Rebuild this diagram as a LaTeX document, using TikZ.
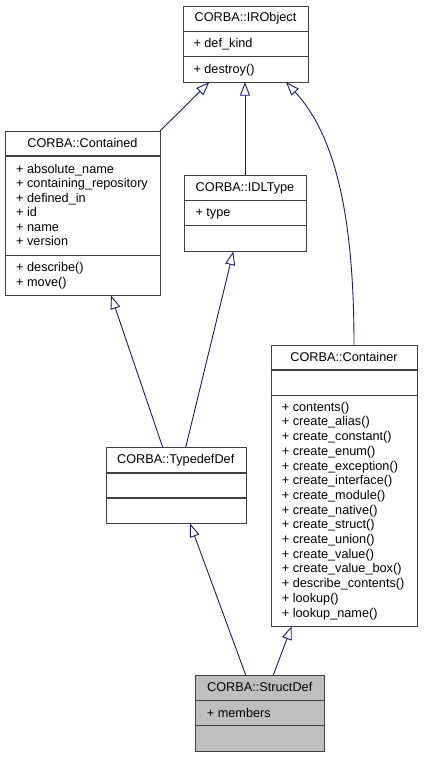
\documentclass[tikz,border=0pt]{standalone}
\usepackage{fontspec}
\setmainfont{Liberation Sans}
\usetikzlibrary{arrows.meta}
\definecolor{edgeblue}{RGB}{25,25,112}
\definecolor{boxline}{RGB}{64,64,64}
\definecolor{boxgray}{RGB}{191,191,191}
\tikzset{
  cls/.style={draw=boxline, line width=1.1pt, fill=white, inner sep=0pt, anchor=north west},
  sep/.style={draw=boxline, line width=1.1pt},
  title/.style={inner sep=0pt, anchor=base, font=\fontsize{12.7}{14.6}\selectfont},
  item/.style={inner sep=0pt, anchor=base west, font=\fontsize{12.7}{14.6}\selectfont},
  inh/.style={draw=edgeblue, line width=0.9pt, -{Triangle[open, length=13.5pt, width=10pt, fill=white]}}
}
\begin{document}
\begin{tikzpicture}[x=1pt,y=-1pt]
\useasboundingbox (0,0) rectangle (423,757);
% IRObject
\node[cls, minimum width=125pt, minimum height=76pt] (iro) at (183,5.7) {};
\draw[sep] (183,31.7) -- (308,31.7);
\draw[sep] (183,56.7) -- (308,56.7);
\node[title] (iroT) at (245.5,21.8) {CORBA::IRObject};
\node[item] (iroA) at (193.3,47.2) {+ def\_kind};
\node[item] (iroM) at (193.3,73.5) {+ destroy()};
% Contained
\node[cls, minimum width=155pt, minimum height=164pt] (con) at (5,131) {};
\draw[sep] (5,156) -- (160,156);
\draw[sep] (5,255.3) -- (160,255.3);
\node[title] (conT) at (82.5,147.2) {CORBA::Contained};
\node[item] (conA1) at (16,173.5) {+ absolute\_name};
\node[item] (conA2) at (16,187.9) {+ containing\_repository};
\node[item] (conA3) at (16,202.3) {+ defined\_in};
\node[item] (conA4) at (16,216.7) {+ id};
\node[item] (conA5) at (16,231.1) {+ name};
\node[item] (conA6) at (16,245.5) {+ version};
\node[item] (conM1) at (16,271.2) {+ describe()};
\node[item] (conM2) at (16,286.5) {+ move()};
% IDLType
\node[cls, minimum width=122.6pt, minimum height=76pt] (idl) at (183.7,175) {};
\draw[sep] (183.7,200.7) -- (306.3,200.7);
\draw[sep] (183.7,225.7) -- (306.3,225.7);
\node[title] (idlT) at (245,191.2) {CORBA::IDLType};
\node[item] (idlA) at (195.3,216.8) {+ type};
% Container
\node[cls, minimum width=146.6pt, minimum height=281pt] (ctr) at (270.7,344.7) {};
\draw[sep] (270.7,370) -- (417.3,370);
\draw[sep] (270.7,395.3) -- (417.3,395.3);
\node[title] (ctrT) at (344,361.2) {CORBA::Container};
\foreach \t [count=\i from 0] in {contents(),create\_alias(),create\_constant(),create\_enum(),create\_exception(),create\_interface(),create\_module(),create\_native(),create\_struct(),create\_union(),create\_value(),create\_value\_box(),describe\_contents(),lookup(),lookup\_name()}
  \node[item] (ctrM\i) at (281.7,411.2+\i*14.7) {+ \t};
% TypedefDef
\node[cls, minimum width=140pt, minimum height=75.7pt] (tdd) at (105.7,447.3) {};
\draw[sep] (105.7,473) -- (245.7,473);
\draw[sep] (105.7,498) -- (245.7,498);
\node[title] (tddT) at (175.7,463.2) {CORBA::TypedefDef};
% StructDef
\node[cls, fill=boxgray, minimum width=129.3pt, minimum height=76pt] (sd) at (195,675) {};
\draw[sep] (195,700.3) -- (324.3,700.3);
\draw[sep] (195,725.7) -- (324.3,725.7);
\node[title] (sdT) at (259.7,691.2) {CORBA::StructDef};
\node[item] (sdA) at (206.7,717.2) {+ members};
% connector end points on box borders
\coordinate (iroIn1) at (209.3,82.2);
\coordinate (iroIn2) at (245,82.2);
\coordinate (iroIn3) at (286,82.2);
\coordinate (conOut) at (160,131);
\coordinate (idlOut) at (245,175);
\coordinate (ctrOut) at (354,344.7);
\coordinate (conIn) at (111,295.5);
\coordinate (idlIn) at (233.3,251.5);
\coordinate (tddOut1) at (162.7,447.3);
\coordinate (tddOut2) at (185.7,447.3);
\coordinate (tddIn) at (190,523.5);
\coordinate (ctrIn) at (291.7,626.2);
\coordinate (sdOut1) at (245.7,675);
\coordinate (sdOut2) at (273.3,675);
% edges
\draw[inh] (conOut) -- (iroIn1);
\draw[inh] (idlOut) -- (iroIn2);
\draw[inh] (ctrOut) .. controls (354,215) and (335,135) .. (iroIn3);
\draw[inh] (tddOut1) -- (conIn);
\draw[inh] (tddOut2) -- (idlIn);
\draw[inh] (sdOut1) -- (tddIn);
\draw[inh] (sdOut2) -- (ctrIn);
\end{tikzpicture}
\end{document}
